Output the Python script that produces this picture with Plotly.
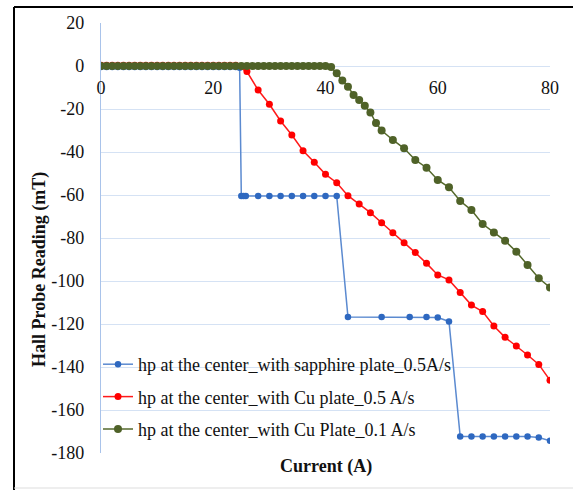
import plotly.graph_objects as go

# ---- data ----
blue_x = [0, 1, 2, 3, 4, 5, 6, 7, 8, 9, 10, 11, 12, 13, 14, 15, 16, 17, 18, 19, 20, 21, 22, 23, 24, 24.7,
          25.0, 25.4, 25.8, 28, 30, 32, 34, 36, 38, 40, 42,
          44, 50, 55, 58, 60, 62,
          64, 66, 68, 70, 72, 74, 76, 78, 80]
blue_y = [-0.5] * 25 + [-0.8,
          -60.5, -60.5, -60.5, -60.5, -60.5, -60.5, -60.5, -60.5, -60.5, -60.5, -60.5,
          -116.7, -116.7, -116.7, -116.7, -117.0, -118.8,
          -172.3, -172.3, -172.3, -172.3, -172.3, -172.3, -172.3, -172.8, -174.3]

red_x = [0, 1, 2, 3, 4, 5, 6, 7, 8, 9, 10, 11, 12, 13, 14, 15, 16, 17, 18, 19, 20, 21, 22, 23, 24,
         26, 28, 30, 32, 34, 36, 38, 40, 42, 44, 46, 48, 50, 52, 54, 56, 58, 60, 62, 64, 66, 68,
         70, 72, 74, 76, 78, 80]
red_y = [0.3] * 25 + [-2.6, -11.2, -17.8, -25.6, -32.1, -39.4, -44.8, -50.4, -54.3, -60.3, -64.2,
         -68.2, -72.9, -77.5, -82.2, -86.8, -91.8, -97.2, -99.5, -105.4, -111.2, -114.2,
         -120.9, -126.2, -130.2, -134.4, -138.8, -146.2]

green_x = [0, 1, 2, 3, 4, 5, 6, 7, 8, 9, 10, 11, 12, 13, 14, 15, 16, 17, 18, 19, 20, 21, 22, 23, 24,
           25, 26, 27, 28, 29, 30, 31, 32, 33, 34, 35, 36, 37, 38, 39, 40, 41,
           42, 43, 44, 45, 46, 47, 48, 49, 50, 52, 54, 56, 58, 60, 62, 64, 66, 68, 70, 72, 74,
           76, 78, 80]
green_y = [0.0] * 41 + [-0.5,
           -3.4, -6.8, -9.6, -13.5, -15.8, -18.5, -21.6, -26.5, -30.0, -34.4, -38.3, -43.7,
           -47.3, -53.0, -56.4, -62.8, -67.0, -73.5, -77.4, -81.3, -86.4, -92.6, -98.7, -103.0]

names = ["hp at the center_with sapphire plate_0.5A/s",
         "hp at the center_with Cu plate_0.5 A/s",
         "hp at the center_with Cu Plate_0.1 A/s"]

y_ticks = [20, 0, -20, -40, -60, -80, -100, -120, -140, -160, -180]
x_ticks = [0, 20, 40, 60, 80]

FONT = '"Liberation Serif", "Times New Roman", serif'
TXT = "#111111"

fig = go.Figure()
fig.add_trace(go.Scatter(x=blue_x, y=blue_y, name=names[0], mode="lines+markers",
                         line=dict(color="#5B8AD0", width=1.5),
                         marker=dict(color="#2E68C0", size=6.5), legendgroup="b", legendrank=1))
fig.add_trace(go.Scatter(x=red_x, y=red_y, name=names[1], mode="lines+markers",
                         line=dict(color="#FF1A1A", width=1.5),
                         marker=dict(color="#FF0000", size=7), legendgroup="r", legendrank=2))
fig.add_trace(go.Scatter(x=green_x, y=green_y, name=names[2], mode="lines+markers",
                         line=dict(color="#55692C", width=1.5),
                         marker=dict(color="#4F6228", size=8), legendgroup="g", legendrank=3))

W, H = 573, 490
L, R, T, B = 101, 23, 23, 37
pw, ph = W - L - R, H - T - B


def px(xp):
    return (xp - L) / pw


def py(yp):
    return (H - B - yp) / ph


fig.update_layout(
    width=W, height=H,
    margin=dict(l=L, r=R, t=T, b=B),
    paper_bgcolor="white", plot_bgcolor="white",
    font=dict(family=FONT, size=18, color=TXT),
    showlegend=True,
    legend=dict(x=px(98), y=py(346), xanchor="left", yanchor="top",
                bgcolor="rgba(0,0,0,0)", tracegroupgap=6,
                font=dict(family=FONT, size=18, color=TXT),
                itemclick=False),
    xaxis=dict(range=[0, 80], tickvals=x_ticks, ticktext=[str(v) for v in x_ticks],
               anchor="free", position=0.9, showgrid=False, zeroline=False, showline=False,
               ticks="", ticklabelstandoff=9,
               tickfont=dict(family=FONT, size=18, color=TXT)),
    yaxis=dict(range=[-180, 20], tickvals=y_ticks, ticktext=[str(v) for v in y_ticks],
               showgrid=True, gridcolor="#D5E2F4", gridwidth=1, zeroline=False,
               showline=True, linecolor="#A9C3EA", linewidth=1.3,
               ticks="", ticklabelstandoff=12,
               tickfont=dict(family=FONT, size=18, color=TXT)),
)

fig.add_annotation(text="<b>Hall Probe Reading (mT)</b>", textangle=-90,
                   xref="paper", yref="paper", x=px(39), y=py(270),
                   xanchor="center", yanchor="middle",
                   showarrow=False, font=dict(family=FONT, size=18, color=TXT))
fig.add_annotation(text="<b>Current (A)</b>",
                   xref="paper", yref="paper", x=px(326), y=py(466),
                   xanchor="center", yanchor="middle",
                   showarrow=False, font=dict(family=FONT, size=18, color=TXT))

# outer frame
fig.add_shape(type="line", xref="paper", yref="paper", x0=px(14), x1=px(14), y0=py(7), y1=py(495),
              line=dict(color="black", width=2))
fig.add_shape(type="line", xref="paper", yref="paper", x0=px(14), x1=px(580), y0=py(7), y1=py(7),
              line=dict(color="black", width=2))
fig.add_shape(type="line", xref="paper", yref="paper", x0=px(14), x1=px(580), y0=py(488), y1=py(488),
              line=dict(color="#DDDDDD", width=1))

fig.write_html("out.html", config={"displayModeBar": False},
               post_script="document.body.style.margin='0';document.body.style.overflow='hidden';")
